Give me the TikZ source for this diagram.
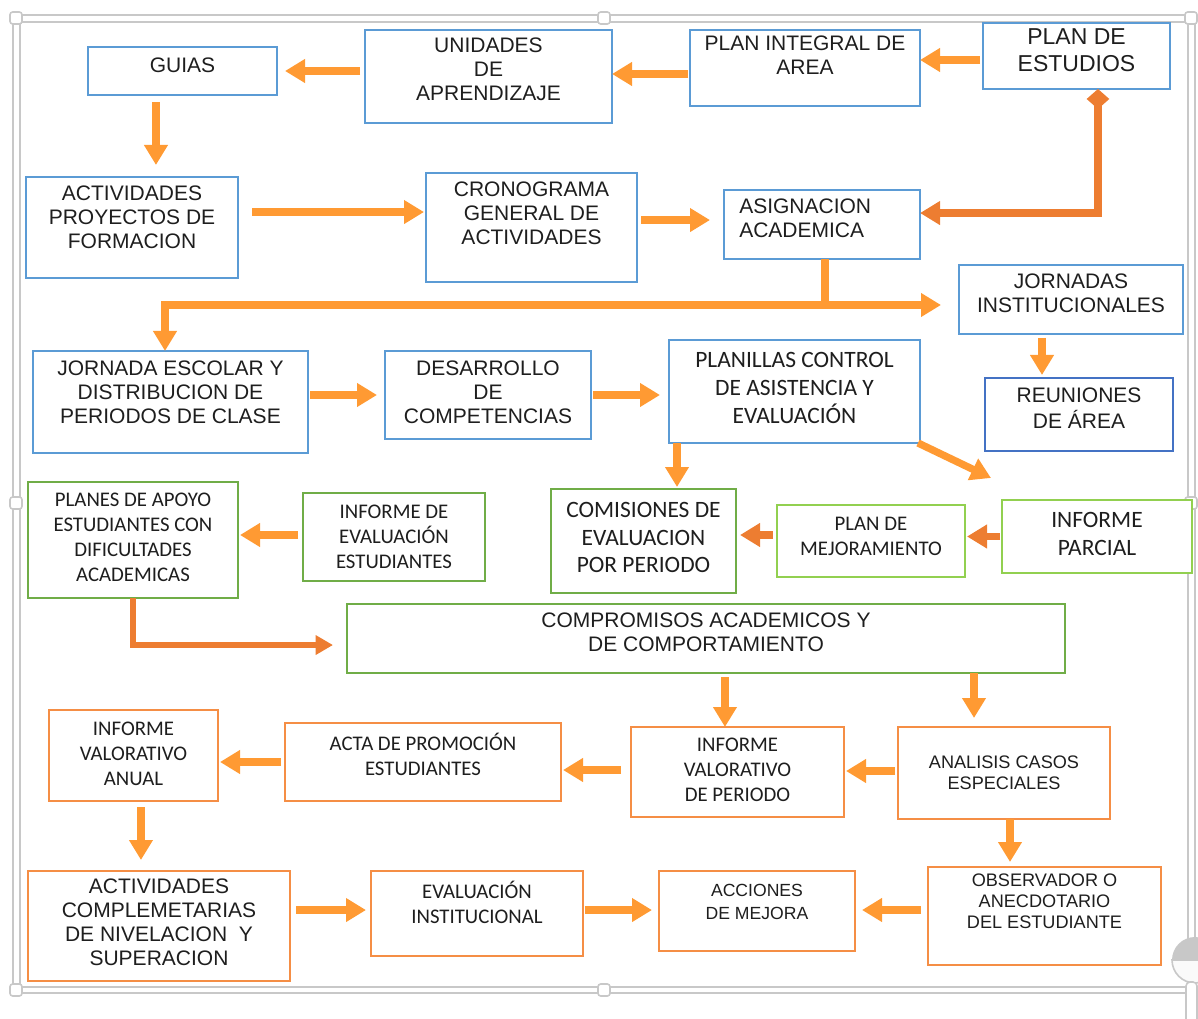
\documentclass[tikz,border=0pt]{standalone}
\usepackage{fontspec}
\usetikzlibrary{arrows.meta}
\newfontfamily\arialf{Liberation Sans}
\newfontfamily\calf{Carlito}
\definecolor{lor}{HTML}{FF9A33}
\definecolor{dor}{HTML}{ED7D31}
\definecolor{bbl}{HTML}{5B9BD5}
\definecolor{dbl}{HTML}{4472C4}
\definecolor{grn}{HTML}{70AD47}
\definecolor{lgr}{HTML}{92D050}
\definecolor{obx}{HTML}{F58E45}
\definecolor{frm}{HTML}{C8C8C8}
\definecolor{txc}{HTML}{1E1E1E}
% #1 name, #2 box style, #3 text style, #4 x1, #5 y1, #6 x2, #7 y2, #8 text y, #9 text
\newcommand\bx[9]{%
  \node[#2, minimum width={(#6-#4)*0.75pt}, minimum height={(#7-#5)*0.75pt}] (#1) at ({(#4+#6)/2},{(#5+#7)/2}) {};
  \node[txt,#3] (#1-t) at ({(#4+#6)/2},#8) {#9};}
\begin{document}
\begin{tikzpicture}[x=0.75pt,y=-0.75pt,
  box/.style={draw, line width=1.4pt, inner sep=0pt, outer sep=0pt, fill=white},
  bluebox/.style={box, draw=bbl},
  dbluebox/.style={box, draw=dbl},
  greenbox/.style={box, draw=grn},
  lgreenbox/.style={box, draw=lgr},
  orangebox/.style={box, draw=obx},
  txt/.style={align=center, inner sep=0pt, text=txc},
  A/.style={font=\arialf\fontsize{15.75}{18}\selectfont},
  Ab/.style={font=\arialf\fontsize{17.25}{20.25}\selectfont},
  Ar/.style={font=\arialf\fontsize{15.75}{19.5}\selectfont},
  As/.style={font=\arialf\fontsize{13.6}{15.6}\selectfont},
  Asw/.style={font=\arialf\fontsize{13.2}{17.25}\selectfont},
  C/.style={font=\calf\fontsize{15.6}{18.75}\selectfont},
  CL/.style={font=\calf\fontsize{17.6}{20.8}\selectfont},
  arr/.style={draw=lor, line width=5.5pt, -{Triangle[width=17pt,length=15pt]}},
  darr/.style={arr, draw=dor},
  thinarr/.style={draw=dor, line width=4pt, line join=miter, -{Triangle[width=14pt,length=13pt]}},
  dcon/.style={draw=dor, line width=5.5pt, line join=miter, {Diamond[width=17pt,length=15pt]}-{Triangle[width=17pt,length=15pt]}},
  bothr/.style={draw=lor, line width=5.5pt, line join=miter, {Triangle[width=17pt,length=15pt]}-{Triangle[width=17pt,length=15pt]}},
  plainl/.style={draw=lor, line width=5.5pt},
  frameline/.style={draw=frm, line width=1.5pt},
  handle/.style={draw=frm, fill=white, line width=1.2pt, rounded corners=2pt}
]
\useasboundingbox (0,0) rectangle (1198,1019);
% frame (selection box)
\draw[frameline] (13,15) rectangle (1195,993);
\draw[frameline] (20,22) rectangle (1188,987);
\foreach \hx/\hy in {16/18, 604/18, 1191/18, 16/503, 1191/503, 16/990, 604/990} {
  \draw[handle] (\hx-6,\hy-6) rectangle (\hx+6,\hy+6);
}
% grey knob at bottom right
\draw[frm, line width=1.2pt, fill=white!90!frm] (1172,960) arc (180:0:23) -- cycle;
\fill[frm] (1172,960) arc (180:360:23) -- cycle;
\draw[frm, line width=1.2pt, fill=white, rounded corners=3pt] (1186,982) rectangle (1197,1025);

% boxes
\bx{guias}{bluebox}{A}{88}{47}{277}{95}{65}{GUIAS}
\bx{unid}{bluebox}{A}{365}{30}{612}{123}{69}{UNIDADES\\DE\\APRENDIZAJE}
\bx{pia}{bluebox}{A}{690}{30}{920}{106}{55.5}{PLAN INTEGRAL DE\\AREA}
\bx{pde}{bluebox}{Ab}{983}{23}{1170}{89}{50.5}{PLAN DE\\ESTUDIOS}
\bx{act}{bluebox}{A}{26}{177}{238}{278}{217}{ACTIVIDADES\\PROYECTOS DE\\FORMACION}
\bx{cron}{bluebox}{A}{426}{173}{637}{282}{213.5}{CRONOGRAMA\\GENERAL DE\\ACTIVIDADES}
\node[bluebox, minimum width={196*0.75pt}, minimum height={69*0.75pt}] (asig) at (822,224.5) {};
\node[txt, A, align=left, anchor=west] (asig-t) at (739,218.5) {ASIGNACION\\ACADEMICA};
\bx{jorn}{bluebox}{A}{959}{265}{1183}{334}{293}{JORNADAS\\INSTITUCIONALES}
\bx{jesc}{bluebox}{A}{33}{351}{308}{453}{392}{JORNADA ESCOLAR Y\\DISTRIBUCION DE\\PERIODOS DE CLASE}
\bx{des}{bluebox}{A}{385}{351}{591}{439}{392}{DESARROLLO\\DE\\COMPETENCIAS}
\bx{plan}{bluebox}{CL}{669}{340}{920}{443}{388}{PLANILLAS CONTROL\\DE ASISTENCIA Y\\EVALUACIÓN}
\bx{reun}{dbluebox}{Ar}{985}{378}{1173}{451}{408}{REUNIONES\\DE ÁREA}
\bx{papoyo}{greenbox}{C}{28}{482}{238}{598}{537.5}{PLANES DE APOYO\\ESTUDIANTES CON\\DIFICULTADES\\ACADEMICAS}
\bx{ied}{greenbox}{C}{303}{493}{485}{581}{537}{INFORME DE\\EVALUACIÓN\\ESTUDIANTES}
\bx{comis}{greenbox}{CL}{551}{489}{736}{593}{537.5}{COMISIONES DE\\EVALUACION\\POR PERIODO}
\bx{pmej}{lgreenbox}{C}{777}{505}{965}{577}{536.5}{PLAN DE\\MEJORAMIENTO}
\bx{ipar}{lgreenbox}{CL}{1002}{500}{1192}{573}{534}{INFORME\\PARCIAL}
\bx{comp}{greenbox}{A}{347}{604}{1065}{673}{632.5}{COMPROMISOS ACADEMICOS Y\\DE COMPORTAMIENTO}
\bx{iva}{orangebox}{C}{49}{710}{218}{801}{754}{INFORME\\VALORATIVO\\ANUAL}
\bx{acta}{orangebox}{C}{285}{723}{561}{801}{754.5}{ACTA DE PROMOCIÓN\\ESTUDIANTES}
\bx{ivp}{orangebox}{C}{631}{727}{844}{817}{770}{INFORME\\VALORATIVO\\DE PERIODO}
\bx{anal}{orangebox}{As}{898}{727}{1110}{819}{772.5}{ANALISIS CASOS\\ESPECIALES}
\bx{acom}{orangebox}{A}{28}{871}{290}{981}{922.5}{ACTIVIDADES\\COMPLEMETARIAS\\DE NIVELACION \ Y\\SUPERACION}
\bx{evi}{orangebox}{C}{371}{871}{583}{956}{902.5}{EVALUACIÓN\\INSTITUCIONAL}
\bx{acc}{orangebox}{Asw}{659}{871}{855}{951}{901.5}{ACCIONES\\DE MEJORA}
\bx{obs}{orangebox}{As}{928}{867}{1161}{965}{901.5}{OBSERVADOR O\\ANECDOTARIO\\DEL ESTUDIANTE}

% connectors
\draw[arr, shorten <=3.75pt, shorten >=6pt] (unid.west |- guias.east) -- (guias.east);
\draw[arr, shorten <=1.5pt] ([yshift=-4.5pt]pia.west) -- ([yshift=-4.5pt]pia.west -| unid.east);
\draw[arr, shorten <=2.25pt] ([yshift=-3pt]pde.west) -- ([yshift=-3pt]pde.west -| pia.east);
\draw[arr, shorten <=5.25pt, shorten >=9pt] ([xshift=-19.9pt]guias.south) -- ([xshift=-19.9pt]guias.south |- act.north);
\draw[arr, shorten <=10.5pt, shorten >=1.5pt] ([yshift=11.6pt]act.east) -- ([yshift=11.6pt]act.east -| cron.west);
\draw[arr, shorten <=3pt, shorten >=10.5pt] ([yshift=5.6pt]cron.east) -- ([yshift=5.6pt]cron.east -| asig.west);
\draw[dcon] ([xshift=16.1pt]pde.south) |- ([yshift=8.6pt]asig.east);
\coordinate (hl) at (165,305);
\draw[plainl] ([xshift=2.25pt]asig.south) -- ([xshift=2.25pt]asig.south |- hl);
\draw[bothr, shorten >=13.5pt] (hl |- jesc.north) -- (hl) -- (jorn.west |- hl);
\draw[arr, shorten <=3pt, shorten >=2.25pt] ([xshift=-21.75pt]jorn.south) -- ([xshift=-21.75pt]jorn.south |- reun.north);
\draw[arr, shorten <=1.5pt, shorten >=6pt] (jesc.east |- des.west) -- (des.west);
\draw[arr, shorten <=1.5pt, shorten >=6.75pt] (des.east) -- (des.east -| plan.west);
\draw[arr, shorten >=1.5pt] ([xshift=6pt]plan.south west) -- ([xshift=6pt]plan.south west |- comis.north);
\coordinate (dtip) at (991,478);
\draw[arr] ([xshift=-1.5pt]plan.south east) -- (dtip);
\draw[darr, shorten <=1.5pt, shorten >=1.5pt] (ipar.west) -- (ipar.west -| pmej.east);
\draw[darr, shorten <=3pt, shorten >=3pt] ([yshift=4.5pt]pmej.west) -- ([yshift=4.5pt]pmej.west -| comis.east);
\draw[arr, shorten <=3.75pt, shorten >=1.5pt] ([yshift=1.5pt]ied.west) -- ([yshift=1.5pt]ied.west -| papoyo.east);
\draw[thinarr, shorten >=10.5pt] (papoyo.south) |- ([yshift=-4.9pt]comp.west);
\draw[arr, shorten <=3pt] ([xshift=-9.4pt]ivp.north |- comp.south) -- ([xshift=-9.4pt]ivp.north);
\draw[arr, shorten >=6.75pt] ([xshift=-22.5pt]anal.north |- comp.south) -- ([xshift=-22.5pt]anal.north);
\draw[arr, shorten <=2.25pt, shorten >=1.5pt] ([yshift=1.5pt]anal.west) -- ([yshift=1.5pt]anal.west -| ivp.east);
\draw[arr, shorten <=7.5pt, shorten >=1.5pt] ([yshift=1.5pt]ivp.west) -- ([yshift=1.5pt]ivp.west -| acta.east);
\draw[arr, shorten <=3pt, shorten >=1.5pt] (acta.west) -- (acta.west -| iva.east);
\draw[arr, shorten <=4.5pt, shorten >=8.25pt] ([xshift=5.6pt]iva.south) -- ([xshift=5.6pt]iva.south |- acom.north);
\draw[arr, shorten <=4.5pt, shorten >=3.75pt] ([yshift=2.6pt]acom.east |- evi.west) -- ([yshift=2.6pt]evi.west);
\draw[arr, shorten <=1.5pt, shorten >=5.25pt] ([yshift=2.6pt]evi.east) -- ([yshift=2.6pt]evi.east -| acc.west);
\draw[arr, shorten <=5.25pt, shorten >=5.25pt] ([yshift=4.5pt]obs.west) -- ([yshift=4.5pt]obs.west -| acc.east);
\draw[arr, shorten >=3.75pt] ([xshift=4.5pt]anal.south) -- ([xshift=4.5pt]anal.south |- obs.north);
\end{tikzpicture}
\end{document}
